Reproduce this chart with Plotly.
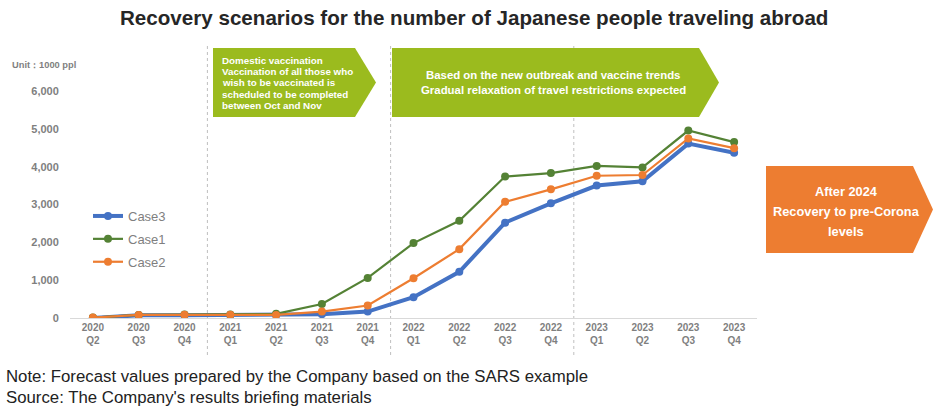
import plotly.graph_objects as go

# ---------------- data ----------------
quarters = ["2020<br>Q2", "2020<br>Q3", "2020<br>Q4",
            "2021<br>Q1", "2021<br>Q2", "2021<br>Q3", "2021<br>Q4",
            "2022<br>Q1", "2022<br>Q2", "2022<br>Q3", "2022<br>Q4",
            "2023<br>Q1", "2023<br>Q2", "2023<br>Q3", "2023<br>Q4"]
case3 = [0, 70, 75, 75, 75, 100, 170, 550, 1220, 2520, 3030, 3500, 3615, 4610, 4370]
case1 = [10, 80, 90, 90, 110, 370, 1060, 1980, 2570, 3740, 3830, 4020, 3980, 4955, 4650]
case2 = [10, 80, 85, 85, 80, 170, 330, 1050, 1820, 3070, 3400, 3760, 3780, 4745, 4490]
y_ticks = [0, 1000, 2000, 3000, 4000, 5000, 6000]
divider_after = [2, 6, 10]   # dotted dividers after these category indices

title = "Recovery scenarios for the number of Japanese people traveling abroad"
unit_label = "Unit\uff1a1000 ppl"
box1_lines = ["Domestic vaccination", "Vaccination of all those who",
              "wish to be vaccinated is", "scheduled to be completed",
              "between Oct and Nov"]
box2_lines = ["Based on the new outbreak and vaccine trends",
              "Gradual relaxation of travel restrictions expected"]
box3_lines = ["After 2024", "Recovery to pre-Corona", "levels"]
notes = ["Note: Forecast values prepared by the Company based on the SARS example",
         "Source: The Company's results briefing materials"]

# ---------------- layout geometry ----------------
W, H = 933, 410
L, R, T, B = 70, 757, 91, 318   # plot area in pixels


def px(x):
    return (x - L) / (R - L)


def py(y):
    return (B - y) / (B - T)


BLUE, GREEN, ORANGE = "#4472C4", "#548235", "#ED7D31"
BOX_GREEN = "#9BBB1E"
GRAY = "#7F7F7F"
FONT = "Liberation Sans, Arial, sans-serif"

fig = go.Figure()
xs = list(range(len(quarters)))
fig.add_trace(go.Scatter(x=xs, y=case3, name="Case3", mode="lines+markers",
                         line=dict(color=BLUE, width=4),
                         marker=dict(color=BLUE, size=8), legendrank=1, legendgroup="g3"))
fig.add_trace(go.Scatter(x=xs, y=case1, name="Case1", mode="lines+markers",
                         line=dict(color=GREEN, width=2.2),
                         marker=dict(color=GREEN, size=8), legendrank=2, legendgroup="g1"))
fig.add_trace(go.Scatter(x=xs, y=case2, name="Case2", mode="lines+markers",
                         line=dict(color=ORANGE, width=2.2),
                         marker=dict(color=ORANGE, size=8), legendrank=3, legendgroup="g2"))

shapes = []
for d in divider_after:
    shapes.append(dict(type="line", xref="x", yref="paper", x0=d + 0.5, x1=d + 0.5,
                       y0=py(355), y1=py(45),
                       line=dict(color="#BFBFBF", width=1, dash="dot"), layer="below"))


def arrow(x0, xr, xt, y0, y1, color):
    ym = (y0 + y1) / 2
    path = (f"M {px(x0)},{py(y0)} L {px(xr)},{py(y0)} L {px(xt)},{py(ym)} "
            f"L {px(xr)},{py(y1)} L {px(x0)},{py(y1)} Z")
    return dict(type="path", xref="paper", yref="paper", path=path,
                fillcolor=color, line=dict(width=0), layer="below")


shapes.append(arrow(213, 355, 376, 48, 117, BOX_GREEN))
shapes.append(arrow(392, 699, 719, 48, 117, BOX_GREEN))
shapes.append(arrow(766, 913, 933, 166, 253, ORANGE))

annotations = []
annotations.append(dict(text=f"<b>{title}</b>", xref="paper", yref="paper",
                        x=px(474), y=py(18), showarrow=False, xanchor="center",
                        yanchor="middle", font=dict(size=20.6, color="#262626", family=FONT)))
annotations.append(dict(text=f"<b>{unit_label}</b>", xref="paper", yref="paper",
                        x=px(10), y=py(65), showarrow=False, xanchor="left",
                        yanchor="middle", font=dict(size=9.3, color=GRAY, family=FONT)))
for i, line in enumerate(box1_lines):
    annotations.append(dict(text=f"<b>{line}</b>", xref="paper", yref="paper",
                            x=px(220), y=py(60 + i * 11.5), showarrow=False,
                            xanchor="left", yanchor="middle",
                            font=dict(size=9.8, color="white", family=FONT)))
for i, line in enumerate(box2_lines):
    annotations.append(dict(text=f"<b>{line}</b>", xref="paper", yref="paper",
                            x=px(553), y=py(75 + i * 15), showarrow=False,
                            xanchor="center", yanchor="middle",
                            font=dict(size=11.4, color="white", family=FONT)))
for i, line in enumerate(box3_lines):
    annotations.append(dict(text=f"<b>{line}</b>", xref="paper", yref="paper",
                            x=px(846), y=py(191 + i * 20), showarrow=False,
                            xanchor="center", yanchor="middle",
                            font=dict(size=12.8, color="white", family=FONT)))
for i, line in enumerate(notes):
    annotations.append(dict(text=line, xref="paper", yref="paper",
                            x=px(4), y=py(376 + i * 21), showarrow=False,
                            xanchor="left", yanchor="middle",
                            font=dict(size=16.8, color="#222222", family=FONT)))

fig.update_layout(
    width=W, height=H, autosize=False,
    margin=dict(l=L, r=W - R, t=T, b=H - B, pad=0),
    paper_bgcolor="white", plot_bgcolor="white",
    font=dict(family=FONT, color=GRAY),
    showlegend=True,
    legend=dict(x=px(88), y=py(201), xanchor="left", yanchor="top",
                bgcolor="rgba(0,0,0,0)", font=dict(size=13, color=GRAY),
                traceorder="grouped", tracegroupgap=3),
    shapes=shapes,
    annotations=annotations,
    xaxis=dict(range=[-0.5, len(quarters) - 0.5], tickmode="array", tickvals=xs,
               ticktext=[f"<b>{q}</b>" for q in quarters],
               tickfont=dict(size=10, color=GRAY), showgrid=False, zeroline=False,
               showline=True, linecolor="#D9D9D9", linewidth=1, ticks=""),
    yaxis=dict(range=[0, 6000], tickmode="array", tickvals=y_ticks,
               ticktext=[f"<b>{v:,}</b>" for v in y_ticks],
               tickfont=dict(size=11, color=GRAY), showgrid=False, zeroline=False,
               showline=False, ticks="outside", ticklen=8, tickcolor="white"),
)
fig.write_html("out.html")
